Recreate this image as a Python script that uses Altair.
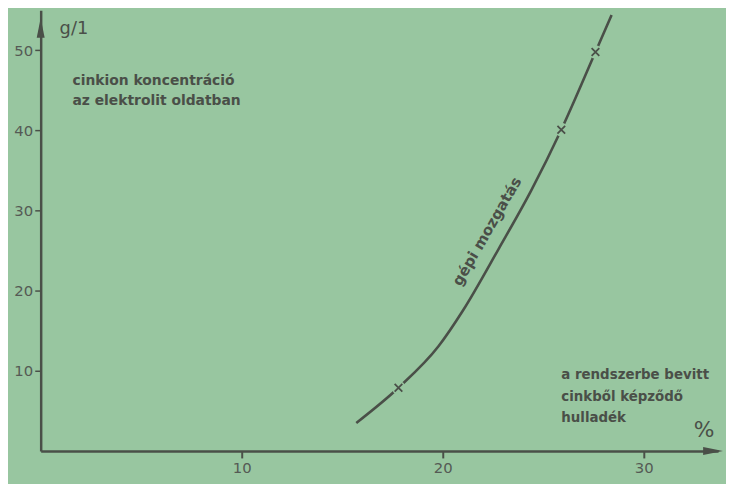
import altair as alt
import pandas as pd

# curve (x: %, y: g/l)
curve_x = [15.7, 17.8, 19.8, 21.0, 22.8, 24.4, 25.9, 27.6, 28.4]
curve_y = [3.5, 7.9, 13.1, 17.5, 25.3, 32.5, 40.1, 49.8, 54.4]
# measured points marked with x
mark_x = [17.8, 25.9, 27.6]
mark_y = [7.9, 40.1, 49.8]

x_ticks = [10, 20, 30]
y_ticks = [10, 20, 30, 40, 50]

BG = "#98c6a0"
INK = "#4a4f48"
FONT = "DejaVu Sans"

xs = alt.Scale(domain=[0, 33.7], nice=False, zero=False)
ys = alt.Scale(domain=[0, 55], nice=False, zero=False)

curve = pd.DataFrame({"x": curve_x, "y": curve_y})
marks = pd.DataFrame({"x": mark_x, "y": mark_y})

X = alt.X("x:Q", scale=xs, axis=alt.Axis(
    values=x_ticks, title=None, grid=False, domainColor=INK, domainWidth=2.5,
    tickColor=INK, tickWidth=2, tickSize=7, labelPadding=3, labelColor="#555a55",
    labelFontSize=15, labelFont=FONT))
Y = alt.Y("y:Q", scale=ys, axis=alt.Axis(
    values=y_ticks, title=None, grid=False, domainColor=INK, domainWidth=2.5,
    tickColor=INK, tickWidth=1.5, tickSize=6, labelPadding=2, labelColor="#555a55",
    labelFontSize=15, labelFont=FONT))

line = alt.Chart(curve).mark_line(color=INK, strokeWidth=2.6, interpolate="monotone").encode(x=X, y=Y)

gaps = alt.Chart(marks).mark_circle(color=BG, opacity=1, size=190).encode(x="x:Q", y="y:Q")
crosses = alt.Chart(marks).mark_point(
    shape="M-1,-1L1,1M-1,1L1,-1", size=60, strokeWidth=1.8, color=INK, opacity=1
).encode(x="x:Q", y="y:Q")

arrows = pd.DataFrame({
    "x": [0, 33.45],
    "y": [52.8, 0],
    "shape": ["M0,-1L0.4,1L-0.4,1Z", "M1,0L-1,0.4L-1,-0.4Z"],
})
arrow = alt.Chart(arrows).mark_point(filled=True, size=400, color=INK, opacity=1).encode(
    x="x:Q", y="y:Q", shape=alt.Shape("shape:N", scale=None))

def label(txt, x, y, size=13, weight="normal", align="left", angle=0, lh=20):
    df = pd.DataFrame({"x": [x], "y": [y], "t": [txt]})
    return alt.Chart(df).mark_text(
        align=align, baseline="middle", font=FONT, fontSize=size, fontWeight=weight,
        color=INK, angle=angle, lineBreak="\n", lineHeight=lh
    ).encode(x="x:Q", y="y:Q", text="t:N")

texts = [
    label("g/1", 0.94, 52.6, size=18),
    label("cinkion koncentráció\naz elektrolit oldatban", 1.58, 46.2, size=14, weight="bold", lh=20),
    label("a rendszerbe bevitt\ncinkből képződő\nhulladék", 25.9, 9.45, size=13.5, weight="bold", lh=21.5),
    label("%", 33.0, 2.6, size=22, align="center"),
    label("gépi mozgatás", 22.2, 27.4, size=15, weight="bold", align="center", angle=300),
]

chart = alt.layer(line, gaps, crosses, arrow, *texts).properties(
    width=684, height=445,
    background=BG,
    padding={"left": 33, "top": 0, "right": 8, "bottom": 31},
    autosize=alt.AutoSizeParams(type="none"),
).configure_view(stroke=None)

chart.save("out.html", embed_options={"renderer": "svg", "actions": False})
